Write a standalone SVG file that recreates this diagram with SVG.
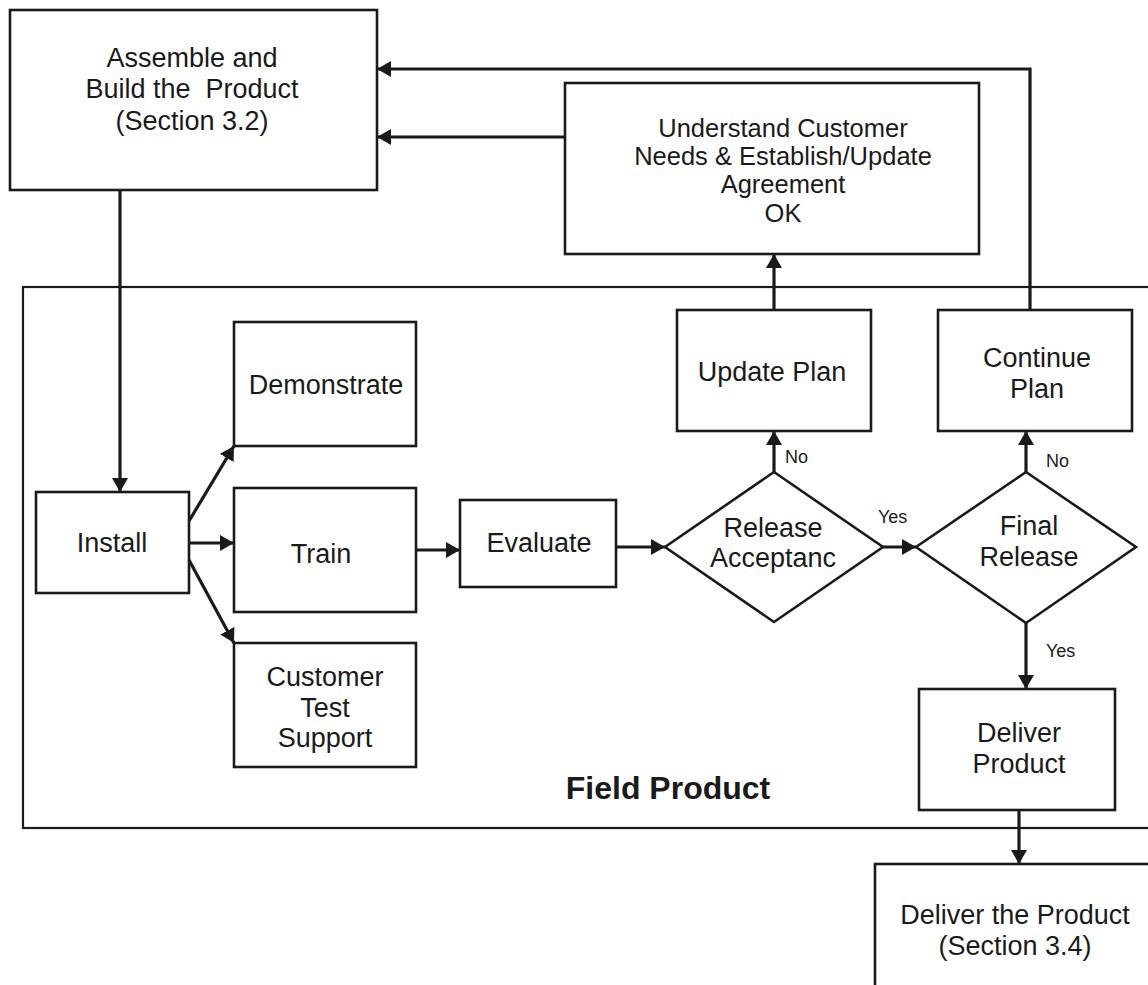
<svg xmlns="http://www.w3.org/2000/svg" width="1148" height="985" viewBox="0 0 1148 985">
<style>
.box{fill:#fff;stroke:#1a1a1a;stroke-width:2.6}
.frame{fill:none;stroke:#1a1a1a;stroke-width:2.2}
.con{fill:none;stroke:#1a1a1a;stroke-width:3.2;marker-end:url(#ah)}
text{font-family:"Liberation Sans",Arial,sans-serif;fill:#1a1a1a;text-anchor:middle}
.t{font-size:27px}
.u{font-size:25.5px}
.s{font-size:18px;text-anchor:start}
.b{font-size:32px;font-weight:bold}
</style>
<defs>
<marker id="ah" viewBox="0 0 14 16" refX="14" refY="8" markerWidth="14" markerHeight="16" orient="auto" markerUnits="userSpaceOnUse">
<path d="M0,0 L14,8 L0,16 z" fill="#1a1a1a"/>
</marker>
</defs>
<g id="field-product">
<rect class="frame" x="23" y="287" width="1130" height="541"/>
<text class="b" x="668" y="799">Field Product</text>
</g>
<g id="assemble">
<rect class="box" x="10" y="10" width="367" height="180"/>
<text class="t" x="192" y="67">Assemble and</text>
<text class="t" x="192" y="98" xml:space="preserve">Build the  Product</text>
<text class="t" x="192" y="130">(Section 3.2)</text>
</g>
<g id="understand">
<rect class="box" x="565" y="83" width="414" height="171"/>
<text class="u" x="783" y="137">Understand Customer</text>
<text class="u" x="783" y="165">Needs &amp; Establish/Update</text>
<text class="u" x="783" y="193">Agreement</text>
<text class="u" x="783" y="222">OK</text>
</g>
<g id="install">
<rect class="box" x="36" y="492" width="153" height="101"/>
<text class="t" x="112" y="552">Install</text>
</g>
<g id="demonstrate">
<rect class="box" x="234" y="322" width="182" height="124"/>
<text class="t" x="326" y="394">Demonstrate</text>
</g>
<g id="train">
<rect class="box" x="234" y="488" width="182" height="124"/>
<text class="t" x="321" y="563">Train</text>
</g>
<g id="customer-test">
<rect class="box" x="234" y="643" width="182" height="124"/>
<text class="t" x="325" y="686">Customer</text>
<text class="t" x="325" y="717">Test</text>
<text class="t" x="325" y="747">Support</text>
</g>
<g id="evaluate">
<rect class="box" x="460" y="500" width="156" height="87"/>
<text class="t" x="539" y="552">Evaluate</text>
</g>
<g id="release-acceptance">
<polygon class="box" points="774,472 883,547 774,622 665,547"/>
<text class="t" x="773" y="537">Release</text>
<text class="t" x="773" y="567">Acceptanc</text>
</g>
<g id="final-release">
<polygon class="box" points="1026,472 1136,547 1026,623 916,547"/>
<text class="t" x="1029" y="535">Final</text>
<text class="t" x="1029" y="566">Release</text>
</g>
<g id="update-plan">
<rect class="box" x="677" y="310" width="194" height="121"/>
<text class="t" x="772" y="381">Update Plan</text>
</g>
<g id="continue-plan">
<rect class="box" x="938" y="310" width="194" height="121"/>
<text class="t" x="1037" y="367">Continue</text>
<text class="t" x="1037" y="398">Plan</text>
</g>
<g id="deliver-product">
<rect class="box" x="919" y="689" width="196" height="121"/>
<text class="t" x="1019" y="742">Deliver</text>
<text class="t" x="1019" y="773">Product</text>
</g>
<g id="deliver-the-product">
<rect class="box" x="875" y="864" width="290" height="140"/>
<text class="t" x="1015" y="924">Deliver the Product</text>
<text class="t" x="1015" y="955">(Section 3.4)</text>
</g>
<g id="connectors">
<path class="con" d="M120,190 V492"/>
<path class="con" d="M189,521 L234,446"/>
<path class="con" d="M189,543 H234"/>
<path class="con" d="M189,560 L234,643"/>
<path class="con" d="M416,550 H460"/>
<path class="con" d="M616,547 H665"/>
<path class="con" d="M883,547 H916"/>
<path class="con" d="M774,472 V431"/>
<path class="con" d="M1026,472 V431"/>
<path class="con" d="M1026,623 V689"/>
<path class="con" d="M1019,810 V864"/>
<path class="con" d="M774,310 V254"/>
<path class="con" d="M565,137 H377"/>
<path class="con" d="M1030,310 V69 H377"/>
<text class="s" x="785" y="463">No</text>
<text class="s" x="1046" y="467">No</text>
<text class="s" x="878" y="523">Yes</text>
<text class="s" x="1046" y="657">Yes</text>
</g>
</svg>
